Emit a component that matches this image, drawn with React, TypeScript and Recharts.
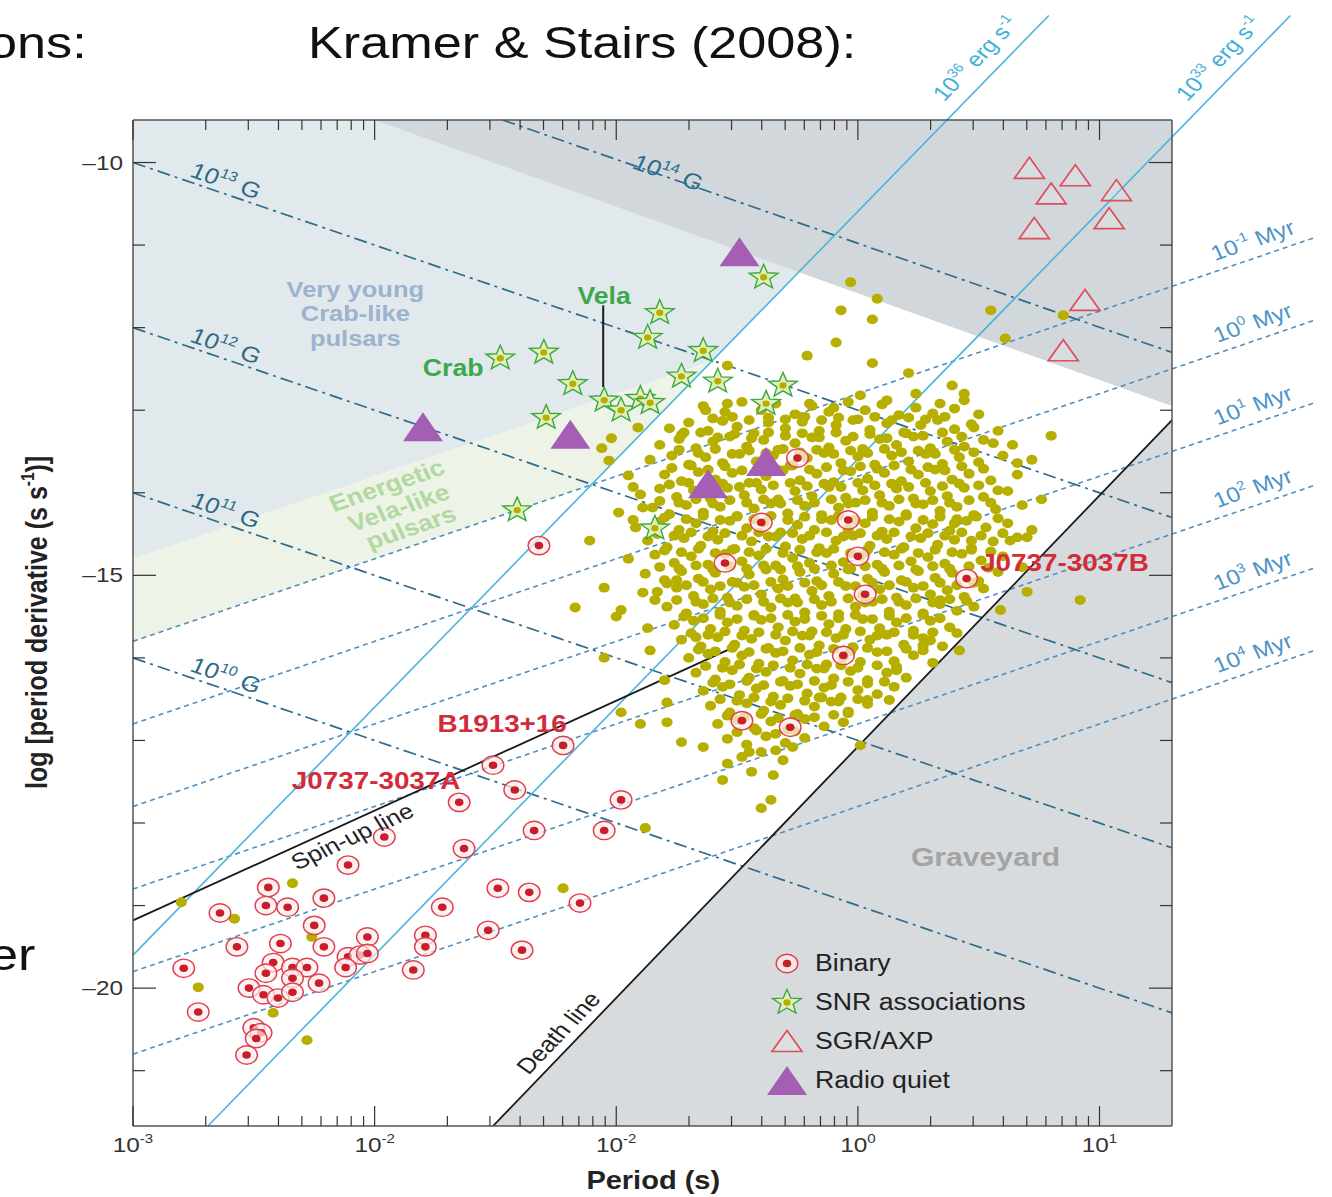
import React from 'react';
import {
  ComposedChart, XAxis, YAxis, Area, Scatter, ReferenceLine, ReferenceDot, Legend,
} from 'recharts';

const W = 1332;
const H = 1197;
// the original figure was stretched sideways on the slide, text included
const SX = 1.16;
const FONT = '"Liberation Sans", Arial, Helvetica, sans-serif';

// axes: log10 P (s) and log10 Pdot (s/s)
const X_RANGE: [number, number] = [-3, 1.3];
const Y_RANGE: [number, number] = [-21.67, -9.485];

const X_TICK_PERIODS = [
  0.001, 0.002, 0.003, 0.004, 0.005, 0.006, 0.007, 0.008, 0.009,
  0.01, 0.02, 0.03, 0.04, 0.05, 0.06, 0.07, 0.08, 0.09,
  0.1, 0.2, 0.3, 0.4, 0.5, 0.6, 0.7, 0.8, 0.9,
  1, 2, 3, 4, 5, 6, 7, 8, 9, 10,
];
const X_TICKS = X_TICK_PERIODS.map((p) => Math.log10(p));
const X_MAJOR = [-3, -2, -1, 0, 1];
const X_MAJOR_EXP = ['-3', '-2', '-2', '0', '1']; // as printed in the figure
const Y_TICKS = [-21, -20, -19, -18, -17, -16, -15, -14, -13, -12, -11, -10];
const Y_LABELLED = [-10, -15, -20];
const Y_LABELS = ['–10', '–15', '–20'];

// shaded zones
const ZONE_YOUNG = [
  { x: -3, band: [-14.8, -9.485] },
  { x: -0.6, band: [-12.4, -9.485] },
  { x: 0.37, band: [-9.485, -9.485] },
];
const ZONE_ENERGETIC = [
  { x: -3, band: [-15.8, -14.8] },
  { x: -1.1, band: [-13.9, -12.9] },
  { x: -0.6, band: [-12.4, -12.4] },
];
const ZONE_MAGNETAR = [
  { x: -2.0, band: [-9.485, -9.485] },
  { x: 1.3, band: [-12.95, -9.485] },
];
const ZONE_GRAVEYARD = [
  { x: -1.51, band: [-21.67, -21.67] },
  { x: 1.3, band: [-21.67, -13.12] },
];

// guide lines [logP, logPdot] end points
const B_FIELD_LINES = [
  { from: [-3, -10.0], to: [1.3, -14.3] },
  { from: [-3, -12.0], to: [1.3, -16.3] },
  { from: [-3, -14.0], to: [1.3, -18.3] },
  { from: [-3, -16.0], to: [1.3, -20.3] },
  { from: [-1.47, -9.485], to: [1.3, -12.3] },
];
const AGE_LINES = [
  { from: [-3, -15.8], to: [1.89, -10.91] },
  { from: [-3, -16.8], to: [1.89, -11.91] },
  { from: [-3, -17.8], to: [1.89, -12.91] },
  { from: [-3, -18.8], to: [1.89, -13.91] },
  { from: [-3, -19.8], to: [1.89, -14.91] },
  { from: [-3, -20.8], to: [1.89, -15.91] },
];
const EDOT_LINES = [
  { from: [-3, -19.6], to: [0.79, -8.22] },
  { from: [-2.69, -21.67], to: [1.79, -8.22] },
];
const DEATH_LINE = { from: [-1.51, -21.67], to: [1.3, -13.12] };
const SPIN_UP_LINE = { from: [-3, -19.18], to: [-0.49, -15.84] };
const VELA_POINTER = { from: [-1.054, -11.73], to: [-1.054, -12.72] };

// pulsars
const NORMAL_CORE = [
  [-0.64,-12.95],[-0.55,-13.02],[-0.48,-12.9],[-0.4,-13.0],[-0.34,-12.92],[-0.26,-13.05],[-0.19,-12.95],[-0.12,-13.02],[-0.04,-12.9],[0.03,-13.0],[0.1,-12.93],[0.17,-13.06],[0.24,-12.97],[0.31,-13.04],[0.4,-12.98],[0.5,-13.05],
  [-0.78,-13.22],[-0.7,-13.15],[-0.62,-13.25],[-0.56,-13.13],[-0.5,-13.2],[-0.43,-13.28],[-0.37,-13.15],[-0.3,-13.22],[-0.23,-13.14],[-0.16,-13.25],[-0.09,-13.18],[-0.02,-13.12],[0.05,-13.24],[0.12,-13.16],[0.19,-13.27],[0.26,-13.18],[0.33,-13.12],[0.4,-13.23],[0.47,-13.17],[0.58,-13.25],
  [-0.82,-13.42],[-0.74,-13.35],[-0.67,-13.46],[-0.6,-13.38],[-0.53,-13.32],[-0.46,-13.44],[-0.39,-13.36],[-0.33,-13.48],[-0.26,-13.4],[-0.19,-13.33],[-0.12,-13.45],[-0.05,-13.37],[0.02,-13.47],[0.09,-13.35],[0.16,-13.42],[0.23,-13.32],[0.3,-13.46],[0.37,-13.38],[0.44,-13.44],[0.52,-13.36],[0.64,-13.42],
  [-0.86,-13.6],[-0.77,-13.55],[-0.7,-13.66],[-0.63,-13.57],[-0.56,-13.64],[-0.49,-13.53],[-0.42,-13.62],[-0.35,-13.55],[-0.28,-13.67],[-0.21,-13.58],[-0.14,-13.52],[-0.07,-13.64],[0.0,-13.56],[0.07,-13.66],[0.14,-13.55],[0.21,-13.62],[0.28,-13.53],[0.35,-13.65],[0.42,-13.57],[0.5,-13.63],[0.6,-13.55],[0.72,-13.6],
  [-0.8,-13.78],[-0.73,-13.86],[-0.66,-13.75],[-0.59,-13.84],[-0.52,-13.76],[-0.45,-13.88],[-0.38,-13.8],[-0.31,-13.73],[-0.24,-13.85],[-0.17,-13.77],[-0.1,-13.87],[-0.03,-13.74],[0.04,-13.83],[0.11,-13.76],[0.18,-13.86],[0.25,-13.78],[0.32,-13.72],[0.39,-13.84],[0.46,-13.77],[0.55,-13.85],[0.66,-13.78],
  [-0.9,-14.02],[-0.82,-13.95],[-0.75,-14.05],[-0.68,-13.97],[-0.61,-14.07],[-0.54,-13.94],[-0.47,-14.03],[-0.4,-13.96],[-0.33,-14.08],[-0.26,-13.98],[-0.19,-14.04],[-0.12,-13.93],[-0.05,-14.06],[0.02,-13.97],[0.09,-14.03],[0.16,-13.95],[0.23,-14.07],[0.3,-13.98],[0.37,-14.04],[0.44,-13.94],[0.52,-14.05],[0.62,-13.98],[0.76,-14.08],
  [-0.85,-14.18],[-0.78,-14.26],[-0.71,-14.15],[-0.64,-14.24],[-0.57,-14.17],[-0.5,-14.28],[-0.43,-14.19],[-0.36,-14.13],[-0.29,-14.25],[-0.22,-14.16],[-0.15,-14.27],[-0.08,-14.18],[-0.01,-14.12],[0.06,-14.24],[0.13,-14.16],[0.2,-14.26],[0.27,-14.14],[0.34,-14.22],[0.41,-14.17],[0.48,-14.27],[0.57,-14.2],[0.68,-14.15],
  [-0.92,-14.42],[-0.82,-14.35],[-0.74,-14.45],[-0.67,-14.37],[-0.6,-14.47],[-0.53,-14.34],[-0.46,-14.43],[-0.39,-14.36],[-0.32,-14.48],[-0.25,-14.39],[-0.18,-14.45],[-0.11,-14.33],[-0.04,-14.44],[0.03,-14.37],[0.1,-14.47],[0.17,-14.35],[0.24,-14.43],[0.31,-14.38],[0.38,-14.46],[0.45,-14.34],[0.53,-14.42],[0.62,-14.37],[0.72,-14.45],
  [-0.87,-14.58],[-0.79,-14.66],[-0.72,-14.55],[-0.65,-14.64],[-0.58,-14.57],[-0.51,-14.68],[-0.44,-14.59],[-0.37,-14.53],[-0.3,-14.65],[-0.23,-14.56],[-0.16,-14.67],[-0.09,-14.58],[-0.02,-14.52],[0.05,-14.64],[0.12,-14.56],[0.19,-14.66],[0.26,-14.55],[0.33,-14.63],[0.4,-14.57],[0.47,-14.67],[0.56,-14.59],[0.66,-14.54],
  [-0.95,-14.8],[-0.84,-14.75],[-0.76,-14.85],[-0.69,-14.77],[-0.62,-14.87],[-0.55,-14.74],[-0.48,-14.83],[-0.41,-14.76],[-0.34,-14.88],[-0.27,-14.79],[-0.2,-14.85],[-0.13,-14.73],[-0.06,-14.84],[0.01,-14.77],[0.08,-14.87],[0.15,-14.75],[0.22,-14.83],[0.29,-14.78],[0.36,-14.86],[0.43,-14.74],[0.51,-14.82],[0.6,-14.77],
  [-0.88,-14.98],[-0.8,-15.06],[-0.73,-14.95],[-0.66,-15.04],[-0.59,-14.97],[-0.52,-15.08],[-0.45,-14.99],[-0.38,-14.93],[-0.31,-15.05],[-0.24,-14.96],[-0.17,-15.07],[-0.1,-14.98],[-0.03,-14.92],[0.04,-15.04],[0.11,-14.96],[0.18,-15.06],[0.25,-14.95],[0.32,-15.03],[0.39,-14.97],[0.5,-15.07],[0.58,-14.96],
  [-0.83,-15.2],[-0.75,-15.15],[-0.68,-15.25],[-0.61,-15.17],[-0.54,-15.27],[-0.47,-15.14],[-0.4,-15.23],[-0.33,-15.16],[-0.26,-15.28],[-0.19,-15.19],[-0.12,-15.25],[-0.05,-15.13],[0.02,-15.24],[0.09,-15.17],[0.16,-15.27],[0.23,-15.15],[0.3,-15.23],[0.37,-15.18],[0.44,-15.26],[0.52,-15.16],
  [-0.79,-15.38],[-0.71,-15.46],[-0.64,-15.35],[-0.57,-15.44],[-0.5,-15.37],[-0.43,-15.48],[-0.36,-15.39],[-0.29,-15.33],[-0.22,-15.45],[-0.15,-15.36],[-0.08,-15.47],[-0.01,-15.38],[0.06,-15.32],[0.13,-15.44],[0.2,-15.36],[0.27,-15.46],[0.34,-15.35],[0.41,-15.43],[0.48,-15.38],
  [-0.76,-15.6],[-0.68,-15.55],[-0.61,-15.65],[-0.54,-15.57],[-0.47,-15.67],[-0.4,-15.54],[-0.33,-15.63],[-0.26,-15.56],[-0.19,-15.68],[-0.12,-15.59],[-0.05,-15.65],[0.02,-15.53],[0.09,-15.64],[0.16,-15.57],[0.23,-15.67],[0.3,-15.55],[0.38,-15.63],
  [-0.73,-15.78],[-0.65,-15.86],[-0.58,-15.75],[-0.51,-15.84],[-0.44,-15.77],[-0.37,-15.88],[-0.3,-15.79],[-0.23,-15.73],[-0.16,-15.85],[-0.09,-15.76],[-0.02,-15.87],[0.05,-15.78],[0.12,-15.72],[0.19,-15.84],[0.27,-15.76],[0.35,-15.86],
  [-0.7,-16.0],[-0.62,-15.95],[-0.55,-16.05],[-0.48,-15.97],[-0.41,-16.07],[-0.34,-15.94],[-0.27,-16.03],[-0.2,-15.96],[-0.13,-16.08],[-0.06,-15.99],[0.01,-16.05],[0.08,-15.93],[0.15,-16.04],[0.23,-15.97],[0.31,-16.06],
  [-0.67,-16.18],[-0.59,-16.26],[-0.52,-16.15],[-0.45,-16.24],[-0.38,-16.17],[-0.31,-16.28],[-0.24,-16.19],[-0.17,-16.13],[-0.1,-16.25],[-0.03,-16.16],[0.04,-16.27],[0.12,-16.18],[0.2,-16.24],
  [-0.64,-16.4],[-0.56,-16.35],[-0.49,-16.45],[-0.42,-16.37],[-0.35,-16.47],[-0.28,-16.34],[-0.21,-16.43],[-0.14,-16.36],[-0.07,-16.48],[0.0,-16.39],[0.08,-16.44],[0.15,-16.35],
  [-0.61,-16.58],[-0.53,-16.66],[-0.46,-16.55],[-0.39,-16.64],[-0.32,-16.57],[-0.25,-16.68],[-0.18,-16.59],[-0.11,-16.53],[-0.04,-16.65],[0.04,-16.56],
  [-0.58,-16.8],[-0.5,-16.75],[-0.43,-16.85],[-0.36,-16.77],[-0.29,-16.87],[-0.22,-16.74],[-0.14,-16.83],[-0.06,-16.78],
  [-0.54,-16.98],[-0.46,-17.05],[-0.38,-16.95],[-0.3,-17.03],[-0.22,-16.97],[-0.48,-17.2],[-0.4,-17.14],[-0.31,-17.24],[-0.44,-17.38],[-0.35,-17.42],
];
// in-between dots of the densest part of the cloud
const NORMAL_FILL = [
  [-0.6,-13.1],[-0.52,-13.08],[-0.45,-13.12],[-0.37,-13.09],[-0.3,-13.11],[-0.22,-13.08],[-0.15,-13.12],[-0.08,-13.09],[0.0,-13.11],[0.07,-13.08],[0.14,-13.12],[0.21,-13.09],[0.28,-13.11],[0.36,-13.08],
  [-0.73,-13.3],[-0.65,-13.27],[-0.58,-13.33],[-0.51,-13.29],[-0.44,-13.34],[-0.37,-13.27],[-0.3,-13.31],[-0.23,-13.28],[-0.16,-13.33],[-0.09,-13.27],[-0.02,-13.32],[0.05,-13.29],[0.12,-13.34],[0.2,-13.28],[0.27,-13.31],[0.35,-13.27],[0.43,-13.32],
  [-0.74,-13.48],[-0.66,-13.52],[-0.59,-13.47],[-0.52,-13.53],[-0.45,-13.49],[-0.38,-13.52],[-0.31,-13.47],[-0.24,-13.51],[-0.17,-13.48],[-0.1,-13.53],[-0.03,-13.49],[0.04,-13.52],[0.11,-13.47],[0.18,-13.51],[0.25,-13.49],[0.32,-13.53],[0.4,-13.48],[0.48,-13.51],
  [-0.77,-13.7],[-0.69,-13.67],[-0.62,-13.72],[-0.55,-13.68],[-0.48,-13.73],[-0.41,-13.69],[-0.34,-13.71],[-0.27,-13.67],[-0.2,-13.72],[-0.13,-13.69],[-0.06,-13.73],[0.01,-13.68],[0.08,-13.71],[0.15,-13.67],[0.22,-13.72],[0.29,-13.69],[0.36,-13.73],[0.43,-13.68],[0.52,-13.71],
  [-0.78,-13.9],[-0.7,-13.88],[-0.63,-13.92],[-0.56,-13.89],[-0.49,-13.93],[-0.42,-13.88],[-0.35,-13.91],[-0.28,-13.88],[-0.21,-13.92],[-0.14,-13.89],[-0.07,-13.93],[0.0,-13.88],[0.07,-13.91],[0.14,-13.89],[0.21,-13.93],[0.28,-13.88],[0.35,-13.92],[0.42,-13.89],[0.5,-13.91],
  [-0.82,-14.1],[-0.74,-14.12],[-0.67,-14.08],[-0.6,-14.13],[-0.53,-14.09],[-0.46,-14.12],[-0.39,-14.08],[-0.32,-14.13],[-0.25,-14.09],[-0.18,-14.12],[-0.11,-14.08],[-0.04,-14.13],[0.03,-14.09],[0.1,-14.12],[0.17,-14.08],[0.24,-14.13],[0.31,-14.09],[0.38,-14.12],[0.46,-14.09],[0.55,-14.12],
  [-0.8,-14.3],[-0.71,-14.32],[-0.64,-14.28],[-0.57,-14.33],[-0.5,-14.29],[-0.43,-14.32],[-0.36,-14.28],[-0.29,-14.33],[-0.22,-14.29],[-0.15,-14.32],[-0.08,-14.28],[-0.01,-14.33],[0.06,-14.29],[0.13,-14.32],[0.2,-14.28],[0.27,-14.33],[0.34,-14.29],[0.41,-14.32],[0.49,-14.29],[0.58,-14.31],
  [-0.83,-14.5],[-0.76,-14.52],[-0.69,-14.48],[-0.62,-14.53],[-0.55,-14.49],[-0.48,-14.52],[-0.41,-14.48],[-0.34,-14.53],[-0.27,-14.49],[-0.2,-14.52],[-0.13,-14.48],[-0.06,-14.53],[0.01,-14.49],[0.08,-14.52],[0.15,-14.48],[0.22,-14.53],[0.29,-14.49],[0.36,-14.52],[0.43,-14.48],[0.51,-14.52],[0.6,-14.49],
  [-0.8,-14.7],[-0.73,-14.72],[-0.66,-14.68],[-0.59,-14.73],[-0.52,-14.69],[-0.45,-14.72],[-0.38,-14.68],[-0.31,-14.73],[-0.24,-14.69],[-0.17,-14.72],[-0.1,-14.68],[-0.03,-14.73],[0.04,-14.69],[0.11,-14.72],[0.18,-14.68],[0.25,-14.73],[0.32,-14.69],[0.39,-14.72],[0.47,-14.69],[0.55,-14.71],
  [-0.82,-14.9],[-0.74,-14.92],[-0.67,-14.88],[-0.6,-14.93],[-0.53,-14.89],[-0.46,-14.92],[-0.39,-14.88],[-0.32,-14.93],[-0.25,-14.89],[-0.18,-14.92],[-0.11,-14.88],[-0.04,-14.93],[0.03,-14.89],[0.1,-14.92],[0.17,-14.88],[0.24,-14.93],[0.31,-14.89],[0.38,-14.92],[0.46,-14.89],[0.54,-14.91],
  [-0.79,-15.1],[-0.71,-15.12],[-0.64,-15.08],[-0.57,-15.13],[-0.5,-15.09],[-0.43,-15.12],[-0.36,-15.08],[-0.29,-15.13],[-0.22,-15.09],[-0.15,-15.12],[-0.08,-15.08],[-0.01,-15.13],[0.06,-15.09],[0.13,-15.12],[0.2,-15.08],[0.27,-15.13],[0.34,-15.09],[0.41,-15.12],[0.48,-15.09],
  [-0.75,-15.3],[-0.67,-15.32],[-0.6,-15.28],[-0.53,-15.33],[-0.46,-15.29],[-0.39,-15.32],[-0.32,-15.28],[-0.25,-15.33],[-0.18,-15.29],[-0.11,-15.32],[-0.04,-15.28],[0.03,-15.33],[0.1,-15.29],[0.17,-15.32],[0.24,-15.28],[0.31,-15.33],[0.38,-15.29],[0.45,-15.31],
  [-0.72,-15.5],[-0.64,-15.52],[-0.57,-15.48],[-0.5,-15.53],[-0.43,-15.49],[-0.36,-15.52],[-0.29,-15.48],[-0.22,-15.53],[-0.15,-15.49],[-0.08,-15.52],[-0.01,-15.48],[0.06,-15.53],[0.13,-15.49],[0.2,-15.52],[0.27,-15.48],[0.34,-15.52],
  [-0.69,-15.7],[-0.62,-15.72],[-0.55,-15.68],[-0.48,-15.73],[-0.41,-15.69],[-0.34,-15.72],[-0.27,-15.68],[-0.2,-15.73],[-0.13,-15.69],[-0.06,-15.72],[0.01,-15.68],[0.08,-15.73],[0.15,-15.69],[0.23,-15.72],[0.31,-15.69],
  [-0.66,-15.9],[-0.59,-15.92],[-0.52,-15.88],[-0.45,-15.93],[-0.38,-15.89],[-0.31,-15.92],[-0.24,-15.88],[-0.17,-15.93],[-0.1,-15.89],[-0.03,-15.92],[0.04,-15.88],[0.12,-15.92],[0.2,-15.89],[0.27,-15.91],
  [-0.63,-16.1],[-0.56,-16.12],[-0.49,-16.08],[-0.42,-16.13],[-0.35,-16.09],[-0.28,-16.12],[-0.21,-16.08],[-0.14,-16.13],[-0.07,-16.09],[0.0,-16.12],[0.08,-16.09],[0.16,-16.11],
  [-0.6,-16.3],[-0.53,-16.32],[-0.46,-16.28],[-0.39,-16.33],[-0.32,-16.29],[-0.25,-16.32],[-0.18,-16.28],[-0.11,-16.33],[-0.04,-16.29],[0.04,-16.31],[0.11,-16.29],
  [-0.57,-16.5],[-0.5,-16.52],[-0.43,-16.48],[-0.36,-16.53],[-0.29,-16.49],[-0.22,-16.52],[-0.15,-16.48],[-0.08,-16.53],[0.0,-16.5],
  [-0.54,-16.7],[-0.47,-16.72],[-0.4,-16.68],[-0.33,-16.73],[-0.26,-16.69],[-0.18,-16.72],[-0.1,-16.69],
  [-0.5,-16.9],[-0.42,-16.88],[-0.34,-16.92],[-0.26,-16.89],
];
const NORMAL_SPARSE = [
  [-0.03,-11.45],[0.08,-11.65],[-0.07,-11.79],[0.06,-11.9],[-0.09,-12.18],[-0.21,-12.34],[0.06,-12.43],[0.55,-11.79],[0.61,-12.13],[0.85,-11.85],
  [0.21,-12.55],[0.39,-12.7],[0.34,-12.92],[0.44,-12.88],[0.24,-12.8],[0.12,-12.88],[0.01,-12.82],[-0.1,-12.97],[-0.2,-12.92],
  [-1.02,-13.34],[-0.91,-13.21],[-0.72,-13.27],[-0.63,-13.0],[-0.54,-12.92],[-0.54,-12.46],
  [-1.06,-13.46],[-0.93,-13.93],[-0.99,-14.24],[-0.89,-14.18],[-1.05,-15.15],[-1.17,-15.39],[-0.89,-15.21],[-0.98,-15.42],[-0.87,-15.64],
  [-0.75,-15.06],[-0.67,-15.75],[-0.79,-16.54],[-0.79,-16.78],[-0.64,-17.08],[-0.73,-17.02],[-0.54,-17.28],[-0.45,-17.14],[-0.34,-17.12],[-0.27,-17.08],[-0.56,-17.48],
  [0.44,-12.8],[0.48,-13.21],[0.56,-13.4],[0.66,-13.64],[0.58,-13.97],[0.7,-14.54],[0.47,-14.58],[0.4,-14.37],[0.27,-15.85],[0.41,-15.7],[0.34,-15.3],
  [0.16,-16.15],[0.04,-16.51],[-0.04,-16.67],[-0.16,-16.48],
  [0.8,-13.31],[0.92,-15.3],[0.63,-14.58],[-1.11,-14.58],[-1.03,-13.61],[-0.95,-13.79],[-0.93,-14.33],[-0.84,-15.3],[-0.86,-15.91],[-0.8,-16.27],
  [-0.98,-16.66],[0.01,-17.06],[0.13,-16.51],[0.3,-15.79],[0.42,-15.91],[0.59,-15.42],[0.68,-14.9],[0.7,-15.2],[-1.0,-15.5],[-1.05,-16.0],[-0.9,-16.8],
  [-0.36,-17.72],[-0.4,-17.82],[-0.88,-18.06],[-1.22,-18.79],
  [-2.34,-18.73],[-2.58,-19.16],[-2.26,-19.38],[-2.73,-19.99],[-2.42,-20.3],[-2.28,-20.63],[-2.8,-18.96],
];
const BINARY = [
  [-1.22,-17.06],[-1.51,-17.3],[-1.42,-17.6],[-1.65,-17.75],[-0.98,-17.72],[-1.96,-18.17],[-1.34,-18.09],[-1.05,-18.09],
  [-1.63,-18.31],[-2.11,-18.51],[-2.44,-18.78],[-1.49,-18.79],[-1.36,-18.84],[-2.45,-19.0],[-2.36,-19.02],[-2.21,-18.91],
  [-2.64,-19.09],[-1.15,-18.97],[-1.72,-19.02],[-2.25,-19.24],[-2.03,-19.38],[-1.79,-19.36],[-1.79,-19.5],[-1.53,-19.3],
  [-2.57,-19.5],[-2.39,-19.46],[-2.21,-19.5],[-1.39,-19.54],[-2.42,-19.69],[-2.34,-19.75],[-2.28,-19.75],[-2.11,-19.62],
  [-2.06,-19.6],[-2.12,-19.75],[-2.03,-19.58],[-2.79,-19.76],[-2.45,-19.82],[-2.34,-19.88],[-1.84,-19.78],[-2.52,-20.0],
  [-2.46,-20.08],[-2.4,-20.12],[-2.34,-20.05],[-2.23,-19.94],[-2.73,-20.29],[-2.5,-20.48],[-2.47,-20.54],[-2.49,-20.61],
  [-2.53,-20.81],[-1.32,-14.64],
  [-0.25,-13.58],[-0.4,-14.36],[-0.04,-14.33],[-0.55,-14.85],[0.0,-14.77],[0.03,-15.23],[0.45,-15.04],[-0.06,-15.97],
  [-0.48,-16.76],[-0.28,-16.84],
];
const SNR = [
  [-0.39,-11.39],[-0.82,-11.82],[-0.87,-12.12],[-1.48,-12.37],[-1.3,-12.3],[-0.64,-12.28],[-0.73,-12.59],[-0.58,-12.65],
  [-1.18,-12.68],[-0.31,-12.7],[-1.05,-12.88],[-0.98,-13.0],[-0.9,-12.86],[-0.86,-12.91],[-1.29,-13.09],[-0.38,-12.92],
  [-1.41,-14.21],[-0.84,-14.43],
];
const SGR_AXP = [
  [0.71,-10.07],[0.9,-10.16],[0.8,-10.38],[1.07,-10.34],[0.73,-10.8],[1.04,-10.68],[0.94,-11.67],[0.85,-12.28],
];
const RADIO_QUIET = [
  [-1.8,-13.22],[-1.19,-13.31],[-0.62,-13.91],[-0.38,-13.64],[-0.49,-11.1],
];

type Note = {
  text: string; x: number; y: number; color: string; size: number;
  bold?: boolean; angle?: number;
};
const NOTES: Note[] = [
  { text: 'Very young', x: -2.08, y: -11.53, color: '#9db2cf', size: 22, bold: true },
  { text: 'Crab-like', x: -2.08, y: -11.83, color: '#9db2cf', size: 22, bold: true },
  { text: 'pulsars', x: -2.08, y: -12.13, color: '#9db2cf', size: 22, bold: true },
  { text: 'Energetic', x: -1.95, y: -13.91, color: '#b3d9a2', size: 23, bold: true, angle: -19 },
  { text: 'Vela-like', x: -1.9, y: -14.18, color: '#b3d9a2', size: 23, bold: true, angle: -19 },
  { text: 'pulsars', x: -1.85, y: -14.42, color: '#b3d9a2', size: 23, bold: true, angle: -19 },
  { text: 'Vela', x: -1.05, y: -11.62, color: '#3ba84b', size: 23, bold: true },
  { text: 'Crab', x: -1.675, y: -12.49, color: '#3ba84b', size: 23, bold: true },
  { text: 'B1913+16', x: -1.472, y: -16.79, color: '#d42b3b', size: 24, bold: true },
  { text: 'J0737-3037A', x: -1.994, y: -17.49, color: '#d42b3b', size: 24, bold: true },
  { text: 'J0737-3037B', x: 0.855, y: -14.84, color: '#d42b3b', size: 24, bold: true },
  { text: 'Spin-up line', x: -2.093, y: -18.16, color: '#222', size: 22, angle: -24.8 },
  { text: 'Death line', x: -1.24, y: -20.54, color: '#222', size: 22, angle: -46 },
  { text: 'Graveyard', x: 0.528, y: -18.41, color: '#a3a3a3', size: 26, bold: true },
  { text: '10^{13} G', x: -2.615, y: -10.22, color: '#2c6a8a', size: 22, angle: 19 },
  { text: '10^{12} G', x: -2.615, y: -12.22, color: '#2c6a8a', size: 22, angle: 19 },
  { text: '10^{11} G', x: -2.615, y: -14.21, color: '#2c6a8a', size: 22, angle: 19 },
  { text: '10^{10} G', x: -2.615, y: -16.21, color: '#2c6a8a', size: 22, angle: 19 },
  { text: '10^{14} G', x: -0.785, y: -10.12, color: '#2c6a8a', size: 22, angle: 19 },
  { text: '10^{-1} Myr', x: 1.634, y: -10.94, color: '#4d93c6', size: 21, angle: -19 },
  { text: '10^{0} Myr', x: 1.634, y: -11.94, color: '#4d93c6', size: 21, angle: -19 },
  { text: '10^{1} Myr', x: 1.634, y: -12.94, color: '#4d93c6', size: 21, angle: -19 },
  { text: '10^{2} Myr', x: 1.634, y: -13.94, color: '#4d93c6', size: 21, angle: -19 },
  { text: '10^{3} Myr', x: 1.634, y: -14.94, color: '#4d93c6', size: 21, angle: -19 },
  { text: '10^{4} Myr', x: 1.634, y: -15.94, color: '#4d93c6', size: 21, angle: -19 },
  { text: '10^{36} erg s^{-1}', x: 0.487, y: -8.74, color: '#3fb0d8', size: 21, angle: -46 },
  { text: '10^{33} erg s^{-1}', x: 1.493, y: -8.74, color: '#3fb0d8', size: 21, angle: -46 },
  { text: 'log [period derivative (s s^{-1})]', x: -3.4, y: -15.57, color: '#222', size: 25, bold: true, angle: -90 },
  { text: 'Period (s)', x: -0.847, y: -22.33, color: '#222', size: 25, bold: true },
];

const LEGEND_ITEMS = [
  { label: 'Binary', kind: 'binary' },
  { label: 'SNR associations', kind: 'snr' },
  { label: 'SGR/AXP', kind: 'sgr' },
  { label: 'Radio quiet', kind: 'rq' },
];

const toPts = (rows: number[][]) => rows.map(([x, y]) => ({ x, y }));
const seg = (l: { from: number[]; to: number[] }) => [
  { x: l.from[0], y: l.from[1] },
  { x: l.to[0], y: l.to[1] },
];

// ---- marker drawings ----
const starPath = (cx: number, cy: number, R: number, r: number) => {
  let d = '';
  for (let i = 0; i < 10; i++) {
    const a = -Math.PI / 2 + (i * Math.PI) / 5;
    const rad = i % 2 === 0 ? R : r;
    d += (i ? 'L' : 'M') + (cx + SX * rad * Math.cos(a)).toFixed(1) + ',' + (cy + rad * Math.sin(a)).toFixed(1);
  }
  return d + 'Z';
};
const drawMarker = (kind: string, cx: number, cy: number) => {
  if (kind === 'normal') return <ellipse cx={cx} cy={cy} rx={5.6} ry={4.9} fill="#b7af00" />;
  if (kind === 'binary')
    return (
      <g>
        <ellipse cx={cx} cy={cy} rx={10.8} ry={9.2} fill="rgba(255,236,238,0.7)" stroke="#df3f4c" strokeWidth={1.4} />
        <ellipse cx={cx} cy={cy} rx={4.3} ry={3.8} fill="#c81e2b" />
      </g>
    );
  if (kind === 'snr')
    return (
      <g>
        <path d={starPath(cx, cy, 13, 5.5)} fill="#e4efb6" stroke="#3aa846" strokeWidth={1.4} />
        <ellipse cx={cx} cy={cy} rx={3.6} ry={3.2} fill="#b7af00" />
      </g>
    );
  if (kind === 'sgr')
    return (
      <polygon
        points={`${cx - 15},${cy + 10} ${cx + 15},${cy + 10} ${cx},${cy - 11}`}
        fill="rgba(255,255,255,0.15)" stroke="#e04d5b" strokeWidth={1.7}
      />
    );
  return <polygon points={`${cx - 20},${cy + 13} ${cx + 20},${cy + 13} ${cx},${cy - 16}`} fill="#a45fb4" />;
};
const shapeOf = (kind: string) => (p: any) => drawMarker(kind, p.cx, p.cy);

// ---- text helpers ----
const rich = (s: string, size: number) => {
  const parts = s.split(/(\^\{[^}]*\})/).filter(Boolean);
  let raised = false;
  return parts.map((p, i) => {
    if (p.startsWith('^{')) {
      raised = true;
      return <tspan key={i} fontSize={size * 0.62} dy={-size * 0.42}>{p.slice(2, -1)}</tspan>;
    }
    const dy = raised ? size * 0.42 : undefined;
    raised = false;
    return <tspan key={i} dy={dy}>{p}</tspan>;
  });
};
const noteShape = (n: Note) => (props: any) => {
  const a = ((n.angle ?? 0) * Math.PI) / 180;
  const rot = (Math.atan(SX * Math.tan(a)) * 180) / Math.PI;
  return (
    <text
      transform={`translate(${props.cx},${props.cy}) scale(${SX},1) rotate(${rot})`}
      textAnchor="middle" dy="0.35em" fontSize={n.size} fontWeight={n.bold ? 700 : 400}
      fill={n.color} fontFamily={FONT}
    >
      {rich(n.text, n.size)}
    </text>
  );
};

// ---- axis ticks (drawn inward) ----
const isMajor = (v: number) => Math.abs(v - Math.round(v)) < 1e-6;
const BottomTick = (props: any) => {
  const { x, y, payload } = props;
  const v = payload.value;
  const major = isMajor(v);
  const i = X_MAJOR.indexOf(Math.round(v));
  return (
    <g>
      <line x1={x} x2={x} y1={y} y2={y - (major ? 20 : 10)} stroke="#333" strokeWidth={1.2} />
      {major && i >= 0 && (
        <text transform={`translate(${x},${y + 26}) scale(${SX},1)`} textAnchor="middle" fontSize={21} fill="#333" fontFamily={FONT}>
          10<tspan fontSize={13} dy={-9}>{X_MAJOR_EXP[i]}</tspan>
        </text>
      )}
    </g>
  );
};
const TopTick = (props: any) => {
  const { x, y, payload } = props;
  const major = isMajor(payload.value);
  return <line x1={x} x2={x} y1={y} y2={y + (major ? 20 : 10)} stroke="#333" strokeWidth={1.2} />;
};
const LeftTick = (props: any) => {
  const { x, y, payload } = props;
  const i = Y_LABELLED.indexOf(payload.value);
  return (
    <g>
      <line x1={x} x2={x + (i >= 0 ? 23 : 12)} y1={y} y2={y} stroke="#333" strokeWidth={1.2} />
      {i >= 0 && (
        <text transform={`translate(${x - 10},${y + 7}) scale(${SX},1)`} textAnchor="end" fontSize={21} fill="#333" fontFamily={FONT}>
          {Y_LABELS[i]}
        </text>
      )}
    </g>
  );
};
const RightTick = (props: any) => {
  const { x, y, payload } = props;
  const long = Y_LABELLED.includes(payload.value);
  return <line x1={x} x2={x - (long ? 23 : 12)} y1={y} y2={y} stroke="#333" strokeWidth={1.2} />;
};

const LegendBox = () => (
  <div style={{ fontFamily: FONT }}>
    {LEGEND_ITEMS.map((it) => (
      <div key={it.label} style={{ display: 'flex', alignItems: 'center', height: 39 }}>
        <svg width={44} height={39} style={{ flex: 'none' }}>
          {drawMarker(it.kind, 20, it.kind === 'rq' ? 21 : 19.5)}
        </svg>
        <span style={{ display: 'inline-block', marginLeft: 4, fontSize: 23, color: '#222', transform: `scaleX(${SX})`, transformOrigin: 'left center', whiteSpace: 'nowrap' }}>
          {it.label}
        </span>
      </div>
    ))}
  </div>
);

const axisLine = { stroke: '#555', strokeWidth: 1.5 };

export default function App() {
  return (
    <div style={{ position: 'relative', width: W, height: H, background: '#fff', overflow: 'hidden', fontFamily: FONT }}>
      <style>{'body{margin:0}'}</style>
      <ComposedChart width={W} height={H} margin={{ top: 100, right: 140, bottom: 31, left: 73 }}>
        <XAxis xAxisId={0} type="number" dataKey="x" domain={X_RANGE} allowDataOverflow ticks={X_TICKS}
          interval={0} tickSize={0} tickMargin={0} tickLine={false} axisLine={axisLine} tick={BottomTick} height={40} />
        <XAxis xAxisId="top" orientation="top" type="number" dataKey="x" domain={X_RANGE} allowDataOverflow ticks={X_TICKS}
          interval={0} tickSize={0} tickMargin={0} tickLine={false} axisLine={axisLine} tick={TopTick} height={20} />
        <YAxis yAxisId={0} type="number" dataKey="y" domain={Y_RANGE} allowDataOverflow ticks={Y_TICKS}
          interval={0} tickSize={0} tickMargin={0} tickLine={false} axisLine={axisLine} tick={LeftTick} width={60} />
        <YAxis yAxisId="right" orientation="right" type="number" dataKey="y" domain={Y_RANGE} allowDataOverflow ticks={Y_TICKS}
          interval={0} tickSize={0} tickMargin={0} tickLine={false} axisLine={axisLine} tick={RightTick} width={20} />

        <Area data={ZONE_YOUNG} dataKey="band" type="linear" stroke="none" fill="#e2e9ec" fillOpacity={1} isAnimationActive={false} dot={false} activeDot={false} />
        <Area data={ZONE_ENERGETIC} dataKey="band" type="linear" stroke="none" fill="#edf3e6" fillOpacity={1} isAnimationActive={false} dot={false} activeDot={false} />
        <Area data={ZONE_MAGNETAR} dataKey="band" type="linear" stroke="none" fill="#d2d7db" fillOpacity={1} isAnimationActive={false} dot={false} activeDot={false} />
        <Area data={ZONE_GRAVEYARD} dataKey="band" type="linear" stroke="none" fill="#d8dbde" fillOpacity={1} isAnimationActive={false} dot={false} activeDot={false} />

        <Scatter name="Normal" data={toPts([...NORMAL_CORE, ...NORMAL_FILL, ...NORMAL_SPARSE])} shape={shapeOf('normal')} isAnimationActive={false} />

        {AGE_LINES.map((l, i) => (
          <ReferenceLine key={`a${i}`} segment={seg(l)} stroke="#4f8fbf" strokeWidth={1.6} strokeDasharray="5 4" ifOverflow="visible" />
        ))}
        {B_FIELD_LINES.map((l, i) => (
          <ReferenceLine key={`b${i}`} segment={seg(l)} stroke="#2c6b8c" strokeWidth={1.7} strokeDasharray="13 5 3 5" ifOverflow="visible" />
        ))}
        {EDOT_LINES.map((l, i) => (
          <ReferenceLine key={`e${i}`} segment={seg(l)} stroke="#49b4dc" strokeWidth={1.6} ifOverflow="visible" />
        ))}
        <ReferenceLine segment={seg(DEATH_LINE)} stroke="#1a1a1a" strokeWidth={1.8} ifOverflow="visible" />
        <ReferenceLine segment={seg(SPIN_UP_LINE)} stroke="#1a1a1a" strokeWidth={1.8} ifOverflow="visible" />
        <ReferenceLine segment={seg(VELA_POINTER)} stroke="#1a1a1a" strokeWidth={2} ifOverflow="visible" />

        <Scatter name="Binary" data={toPts(BINARY)} shape={shapeOf('binary')} isAnimationActive={false} />
        <Scatter name="SNR associations" data={toPts(SNR)} shape={shapeOf('snr')} isAnimationActive={false} />
        <Scatter name="SGR/AXP" data={toPts(SGR_AXP)} shape={shapeOf('sgr')} isAnimationActive={false} />
        <Scatter name="Radio quiet" data={toPts(RADIO_QUIET)} shape={shapeOf('rq')} isAnimationActive={false} />

        {NOTES.map((n, i) => (
          <ReferenceDot key={`n${i}`} x={n.x} y={n.y} r={0} ifOverflow="visible" shape={noteShape(n)} />
        ))}

        <Legend layout="vertical" align="center" verticalAlign="middle" content={LegendBox}
          wrapperStyle={{ left: 767, top: 944, width: 320, height: 156 }} />
      </ComposedChart>
      <div style={{ position: 'absolute', left: -12, top: 20, fontSize: 45, lineHeight: 1, color: '#111', transform: `scaleX(${SX})`, transformOrigin: 'left top', whiteSpace: 'nowrap' }}>ons:</div>
      <div style={{ position: 'absolute', left: 308, top: 20, fontSize: 45, lineHeight: 1, color: '#111', transform: `scaleX(${SX})`, transformOrigin: 'left top', whiteSpace: 'nowrap' }}>Kramer &amp; Stairs (2008):</div>
      <div style={{ position: 'absolute', left: -11, top: 932, fontSize: 45, lineHeight: 1, color: '#111', transform: `scaleX(${SX})`, transformOrigin: 'left top', whiteSpace: 'nowrap' }}>er</div>
    </div>
  );
}
